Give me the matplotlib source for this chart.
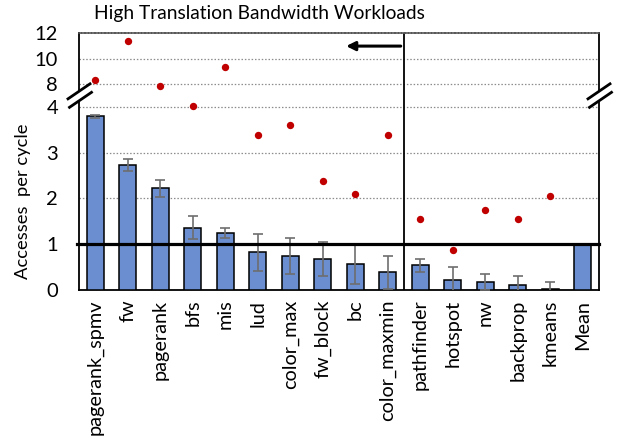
import numpy as np
import matplotlib
matplotlib.use("Agg")
import matplotlib.pyplot as plt
from matplotlib.lines import Line2D
from matplotlib.patches import Rectangle

plt.rcParams['font.family'] = ['Lato', 'DejaVu Sans']

workloads = ["pagerank_spmv", "fw", "pagerank", "bfs", "mis", "lud", "color_max",
             "fw_block", "bc", "color_maxmin", "pathfinder", "hotspot", "nw",
             "backprop", "kmeans", "Mean"]
bar_values = [3.79, 2.72, 2.22, 1.36, 1.25, 0.82, 0.75, 0.68, 0.57, 0.39,
              0.54, 0.21, 0.17, 0.10, 0.03, 1.00]
bar_errors = [0.03, 0.13, 0.18, 0.25, 0.11, 0.41, 0.39, 0.37, 0.43, 0.36,
              0.14, 0.29, 0.18, 0.21, 0.15, 0.0]
dot_values = [8.31, 11.43, 7.63, 4.14, 9.37, 3.38, 3.60, 2.38, 2.09, 3.38,
              1.56, 0.88, 1.74, 1.56, 2.06]
y_ticks = [0, 1, 2, 3, 4, 8, 10, 12]
reference_level = 1.0
title = "High Translation Bandwidth Workloads"
y_label = "Accesses  per cycle"


# Broken y axis: linear up to 4, squeezed 4..8, then a compressed upper band
def forward(v):
    v = np.asarray(v, dtype=float)
    return np.where(v <= 4, v,
                    np.where(v <= 8, 4 + (v - 4) * 0.125, 4.5 + (v - 8) * 0.275))


def inverse(t):
    t = np.asarray(t, dtype=float)
    return np.where(t <= 4, t,
                    np.where(t <= 4.5, 4 + (t - 4) / 0.125, 8 + (t - 4.5) / 0.275))


W, H = 618, 440
fig = plt.figure(figsize=(W / 100, H / 100), dpi=100)
ax_l, ax_r, ax_b, ax_t = 79, 599, 290, 33.5
ax = fig.add_axes([ax_l / W, 1 - ax_b / H, (ax_r - ax_l) / W, (ax_b - ax_t) / H])
ax.set_yscale('function', functions=(forward, inverse))
ax.set_ylim(0, 12)
ax.set_xlim(-0.5, len(workloads) - 0.5)

x = np.arange(len(workloads))
ax.bar(x, bar_values, width=0.51, color='#6A8ED0', edgecolor='black',
       linewidth=1.1, zorder=3)
err_idx = [i for i, e in enumerate(bar_errors) if e > 0]
ax.errorbar(x[err_idx], np.array(bar_values)[err_idx],
            yerr=np.array(bar_errors)[err_idx], fmt='none', ecolor='#6E6E6E',
            elinewidth=1.2, capsize=3.5, capthick=1.2, zorder=4)
ax.plot(np.arange(len(dot_values)), dot_values, 'o', color='#C00000',
        markersize=5.3, markeredgewidth=0, zorder=5)

# grid
for g in [1, 2, 3, 4, 8, 10]:
    ax.axhline(g, color='#8C8C8C', linestyle=(0, (1.2, 1.5)), linewidth=0.9, zorder=1)

ax.set_yticks(y_ticks)
ax.set_yticklabels([str(t) for t in y_ticks])
ax.set_xticks(x)
ax.set_xticklabels(workloads, rotation=90)
ax.tick_params(axis='both', length=0, colors='black')
ax.tick_params(axis='y', pad=15, labelsize=14.5)
ax.tick_params(axis='x', pad=7, labelsize=14.3)
ax.yaxis.set_minor_locator(matplotlib.ticker.NullLocator())

for side in ['left', 'bottom', 'right']:
    ax.spines[side].set_color('black')
    ax.spines[side].set_linewidth(1.3)
ax.spines['top'].set_color('#555555')
ax.spines['top'].set_linestyle((0, (1.2, 0.8)))
ax.spines['top'].set_linewidth(1.2)

# group separator
ax.axvline(9.5, color='black', linewidth=1.3, zorder=2)

# reference line at 1
ax.plot([-2.5 / 520, 1], [reference_level, reference_level], color='black',
        linewidth=2.3, transform=ax.get_yaxis_transform(), clip_on=False, zorder=6)

# arrow in the upper band
ax.annotate('', xy=(7.72, 11), xytext=(9.4, 11),
            arrowprops=dict(arrowstyle='-|>', color='black', lw=2.2,
                            mutation_scale=13, shrinkA=0, shrinkB=0), zorder=6)

# axis break marks
aw, ah = ax_r - ax_l, ax_b - ax_t
yb = float(forward(6.0)) / float(forward(12.0))
for xa in (0.0, 1.0):
    ax.add_patch(Rectangle((xa - 3 / aw, yb - 4.5 / ah), 6 / aw, 9 / ah,
                           transform=ax.transAxes, facecolor='white',
                           edgecolor='none', clip_on=False, zorder=7))
    for cx, cy in ((0.0, 4.0), (1.5, -4.5)):
        ax.add_line(Line2D([xa + (cx - 11) / aw, xa + (cx + 11) / aw],
                           [yb + (cy - 7.5) / ah, yb + (cy + 7.5) / ah],
                           transform=ax.transAxes, color='black', linewidth=2.0,
                           clip_on=False, zorder=8))

ax.set_ylabel(y_label, fontsize=13.2)
ax.yaxis.set_label_coords(-48 / aw, 0.347)

fig.text(259 / W, 1 - 13 / H, title, ha='center', va='center', fontsize=13.8)

fig.savefig('out.png', dpi=100)
